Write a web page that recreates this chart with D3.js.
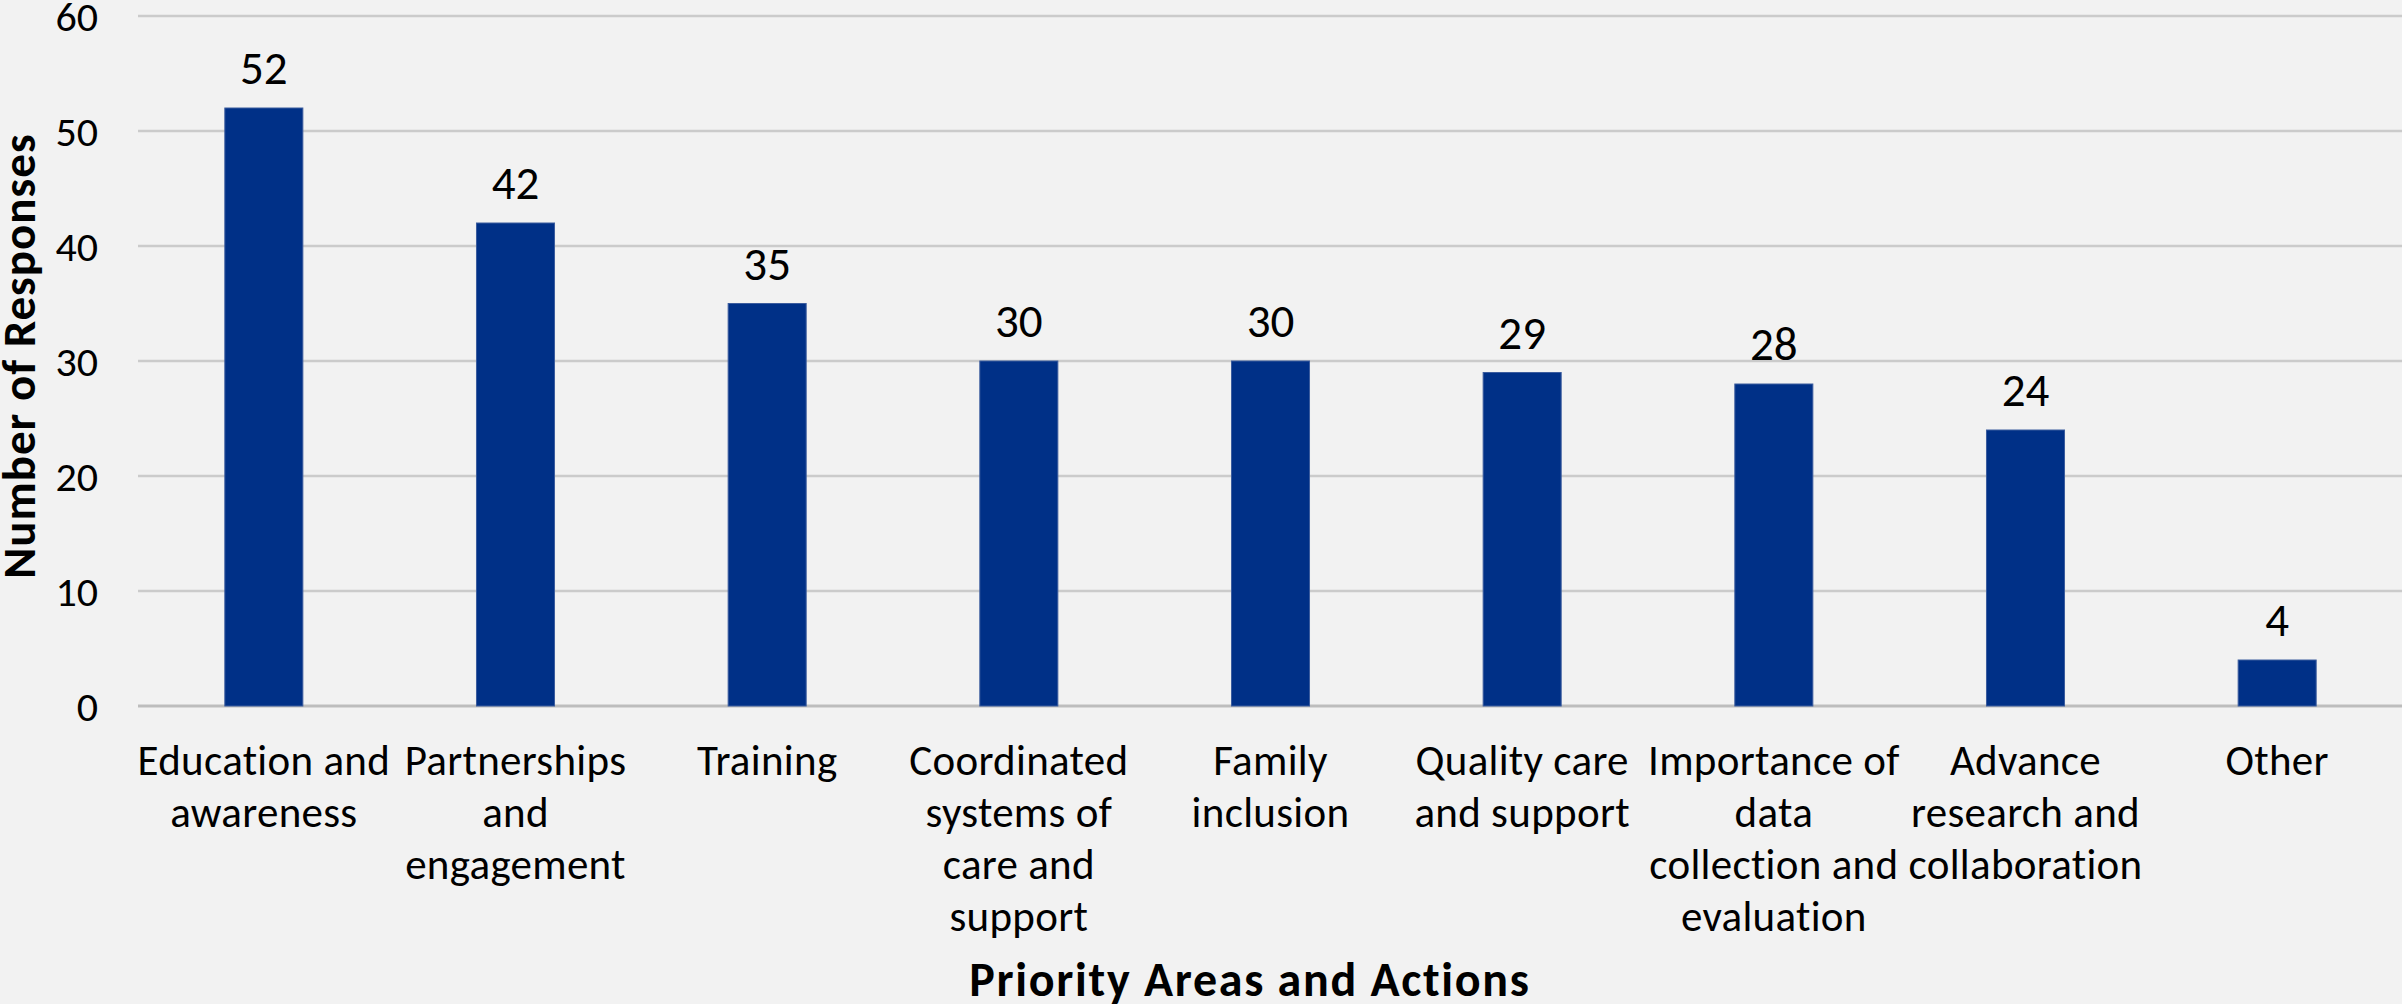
<!DOCTYPE html>
<head>
    <meta charset="utf-8">
    <title>Priority Areas and Actions</title>
    <style>
        html, body { margin: 0; padding: 0; background: #f2f2f2; }
        svg { display: block; font-family: Carlito, Lato, "Open Sans", sans-serif; }
    </style>
</head>
<body>
<svg width="2402" height="1004"></svg>

<script src="https://cdn.jsdelivr.net/npm/d3@7"></script>
<script>

    //data
    var categories = ["Education and awareness", "Partnerships and engagement", "Training",
        "Coordinated systems of care and support", "Family inclusion", "Quality care and support",
        "Importance of data collection and evaluation", "Advance research and collaboration", "Other"];
    var labelLines = [
        ["Education and", "awareness"],
        ["Partnerships", "and", "engagement"],
        ["Training"],
        ["Coordinated", "systems of", "care and", "support"],
        ["Family", "inclusion"],
        ["Quality care", "and support"],
        ["Importance of", "data", "collection and", "evaluation"],
        ["Advance", "research and", "collaboration"],
        ["Other"]
    ];
    var responses = [52, 42, 35, 30, 30, 29, 28, 24, 4];
    var yTicks = [0, 10, 20, 30, 40, 50, 60];

    //svg setting
    var svg = d3.select("svg"),
        width = +svg.attr("width"),
        height = +svg.attr("height");

    //plot area (note: "top" is reserved on window, so use plot* names)
    var plotLeft = 138, plotRight = 2403, plotTop = 16, plotBottom = 706;

    svg.append("rect")
        .attr("width", width)
        .attr("height", height)
        .attr("fill", "#f2f2f2");

    //scales
    var x = d3.scaleBand()
        .domain(categories)
        .range([plotLeft, plotRight])
        .paddingInner(0.69)
        .paddingOuter(0.345);
    var y = d3.scaleLinear()
        .domain([0, 60])
        .range([plotBottom, plotTop]);

    //gridlines
    svg.append("g")
        .selectAll("line")
        .data(yTicks)
        .enter().append("line")
            .attr("x1", plotLeft)
            .attr("x2", width)
            .attr("y1", d => y(d))
            .attr("y2", d => y(d))
            .attr("stroke", d => d === 0 ? "#bdbdbd" : "#cbcbcb")
            .attr("stroke-width", d => d === 0 ? 3 : 2.5);

    //y tick labels
    svg.append("g")
        .selectAll("text")
        .data(yTicks)
        .enter().append("text")
            .attr("x", 98)
            .attr("y", d => y(d))
            .attr("dy", "0.35em")
            .attr("text-anchor", "end")
            .attr("font-size", 42)
            .attr("fill", "#000")
            .text(d => d);

    //bars
    svg.append("g")
        .selectAll("rect")
        .data(responses)
        .enter().append("rect")
            .attr("x", (d, i) => x(categories[i]))
            .attr("y", d => y(d))
            .attr("width", x.bandwidth())
            .attr("height", d => y(0) - y(d))
            .attr("fill", "#003087")
            .attr("stroke", "#3b5c9e")
            .attr("stroke-width", 1);

    //value labels
    svg.append("g")
        .selectAll("text")
        .data(responses)
        .enter().append("text")
            .attr("x", (d, i) => x(categories[i]) + x.bandwidth() / 2)
            .attr("y", d => y(d) - 24)
            .attr("text-anchor", "middle")
            .attr("font-size", 47)
            .attr("fill", "#000")
            .text(d => d);

    //category labels (wrapped like the original)
    var cat = svg.append("g")
        .selectAll("text")
        .data(labelLines)
        .enter().append("text")
            .attr("text-anchor", "middle")
            .attr("font-size", 43)
            .attr("letter-spacing", 0.3)
            .attr("fill", "#000");
    cat.selectAll("tspan")
        .data((d, i) => d.map(s => ({ s: s, i: i })))
        .enter().append("tspan")
            .attr("x", d => x(categories[d.i]) + x.bandwidth() / 2)
            .attr("y", (d, j) => 775 + j * 52)
            .text(d => d.s);

    //axis titles
    svg.append("text")
        .attr("x", 1250)
        .attr("y", 996)
        .attr("text-anchor", "middle")
        .attr("font-size", 48)
        .attr("letter-spacing", 1.7)
        .attr("font-weight", "bold")
        .attr("fill", "#000")
        .text("Priority Areas and Actions");

    svg.append("text")
        .attr("transform", "translate(35,356) rotate(-90)")
        .attr("text-anchor", "middle")
        .attr("font-size", 47)
        .attr("letter-spacing", 1)
        .attr("font-weight", "bold")
        .attr("fill", "#000")
        .text("Number of Responses");

</script>
</body>
